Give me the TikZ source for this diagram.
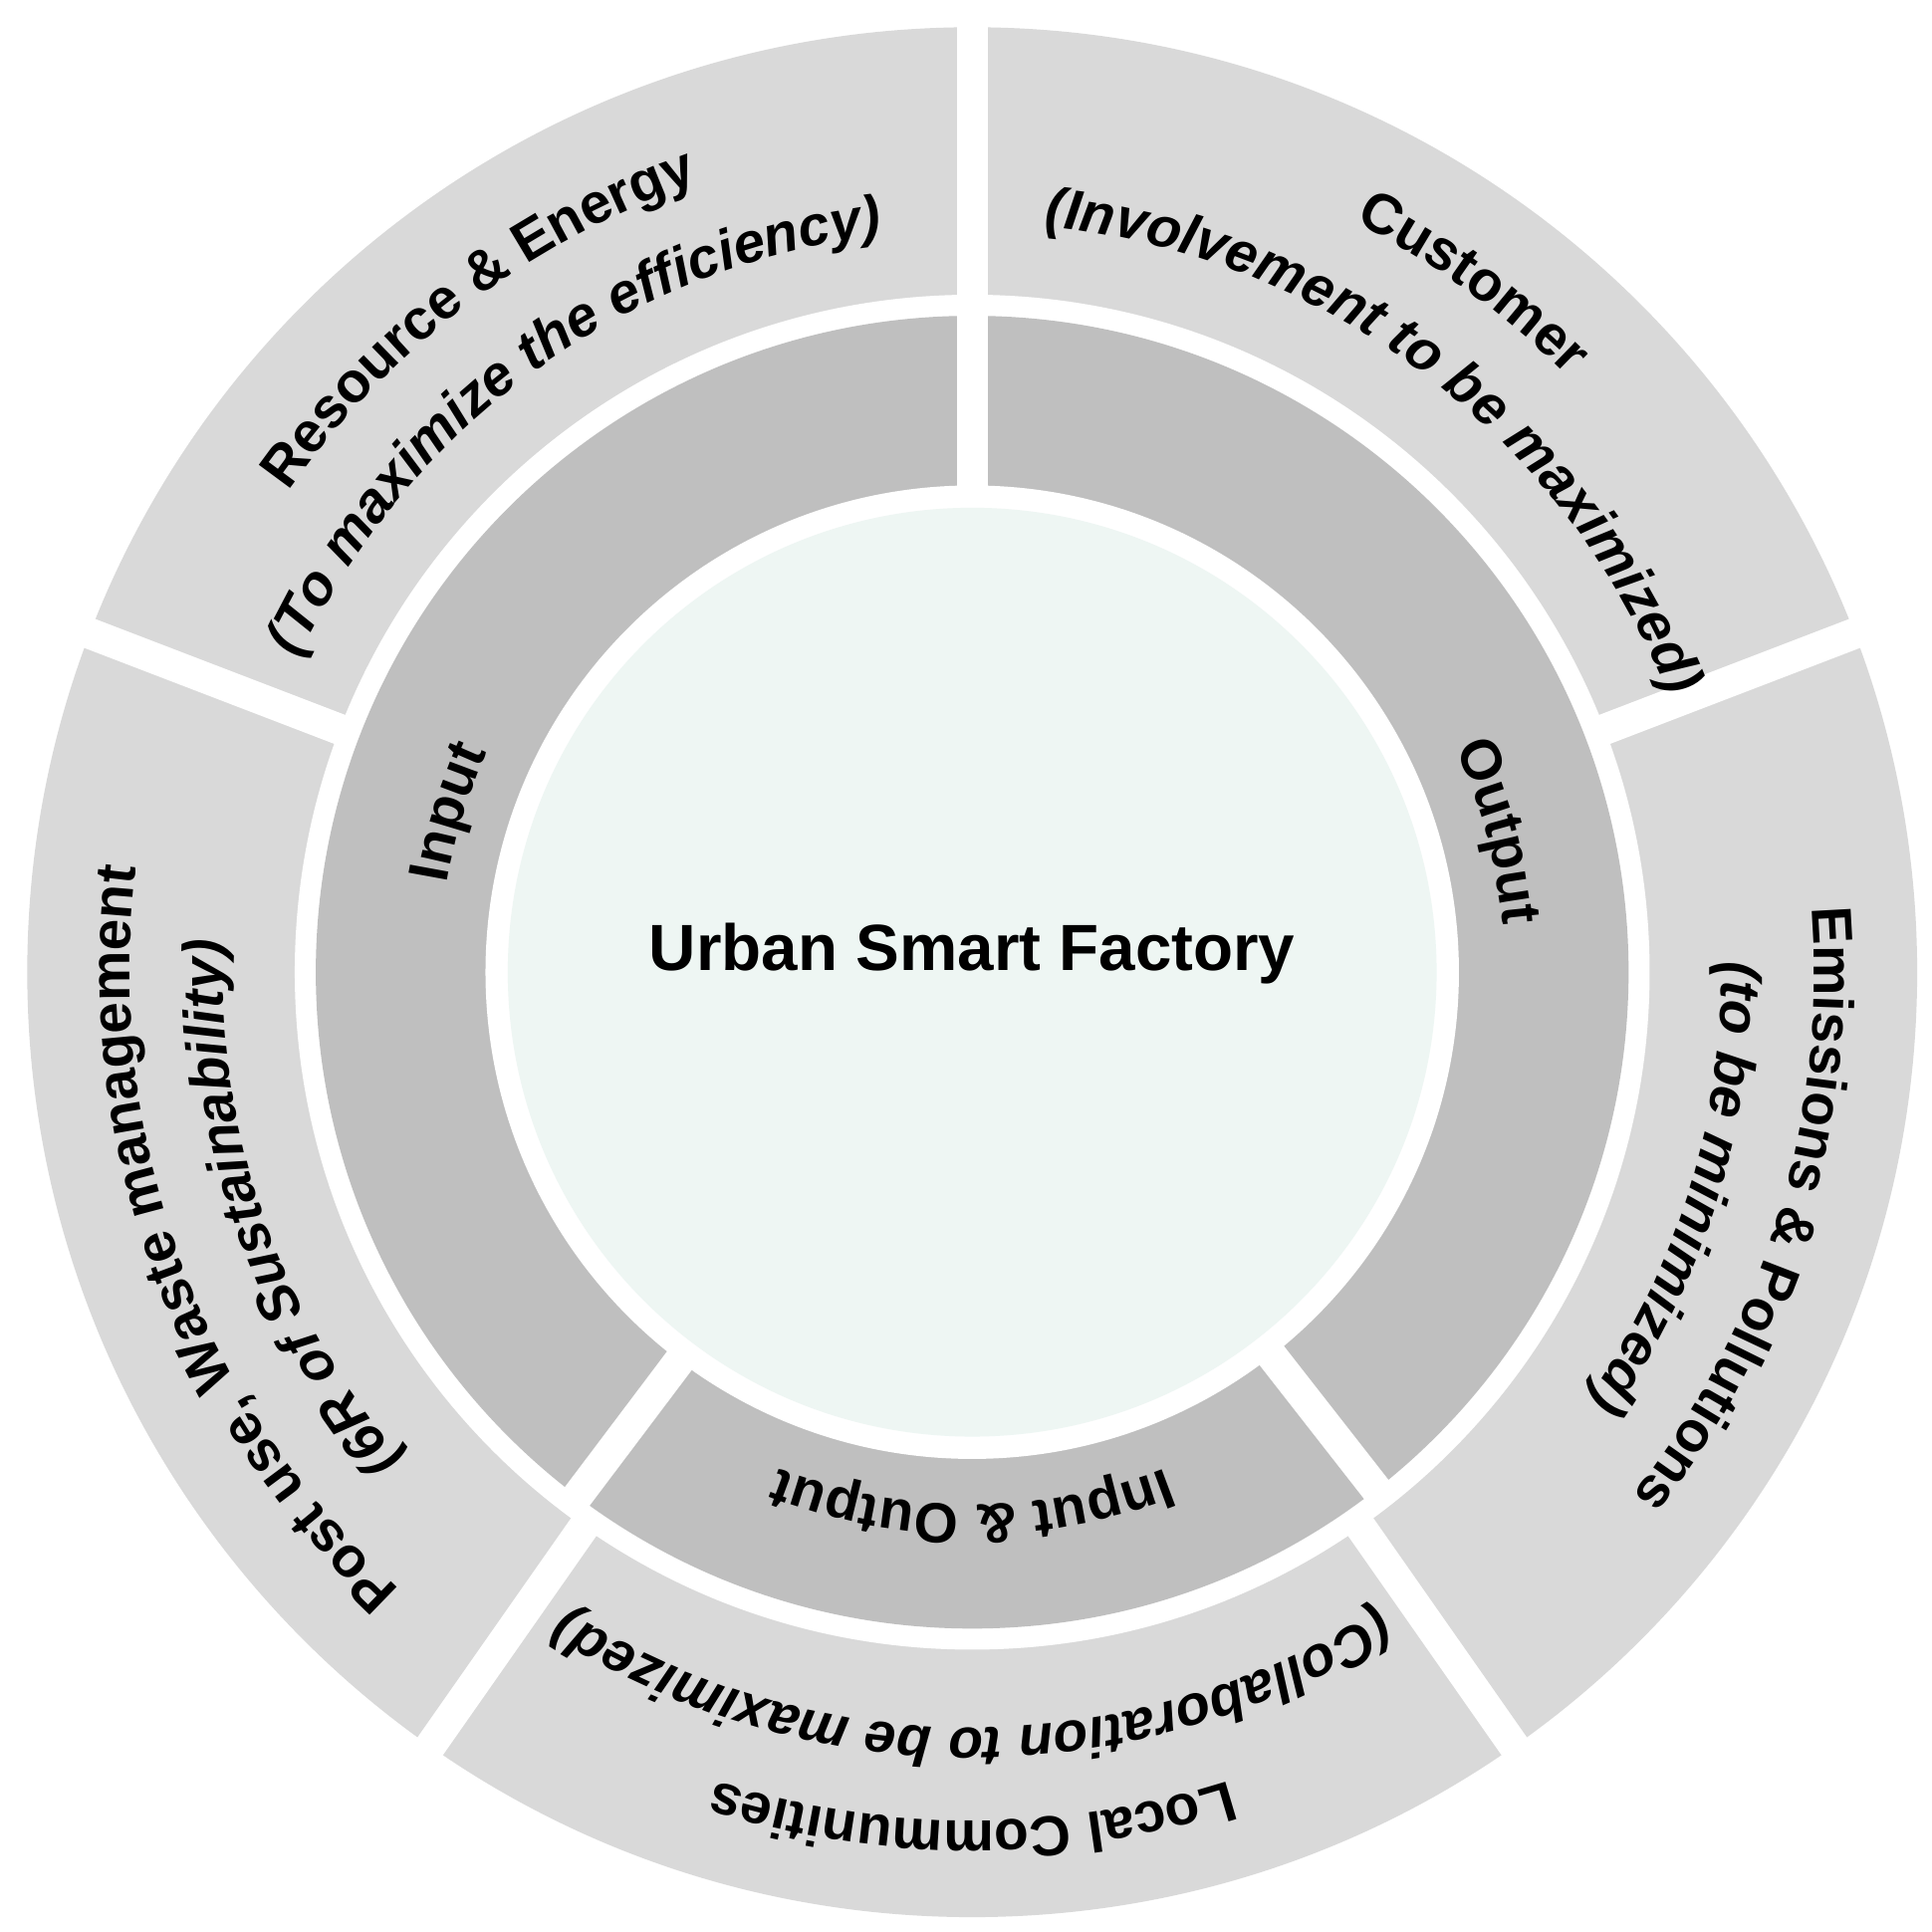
\documentclass[tikz,border=0pt]{standalone}
\usepackage{fontspec}
\setmainfont{Liberation Sans}
\usetikzlibrary{decorations.text}
\definecolor{outerg}{HTML}{D9D9D9}
\definecolor{midg}{HTML}{BFBFBF}
\definecolor{cfill}{HTML}{EEF6F3}
\newcommand{\bff}{\fontsize{13}{15}\selectfont\bfseries}
\newcommand{\itf}{\fontsize{13}{15}\selectfont\bfseries\itshape}
\tikzset{
  gapline/.style={draw=white,line width=0.25cm},
  arctext/.style={decorate,decoration={text along path,text align=center,text={#1}}}
}
\newcommand{\arclabel}[3]{% center angle, radius, text
  \path[arctext={#3}] ({#1+70}:#2) arc[start angle={#1+70},end angle={#1-70},radius=#2];}
\begin{document}
\begin{tikzpicture}
\useasboundingbox (-7.85,-7.75) rectangle (7.75,7.85);
\fill[outerg] (0,0) circle (7.63);
\fill[white] (0,0) circle (5.47);
\fill[midg] (0,0) circle (5.3);
\fill[white] (0,0) circle (3.93);
\fill[cfill] (0,0) circle (3.75);
\foreach \a in {21,90,159,235,305} \draw[gapline] (\a:5.4) -- (\a:7.9);
\foreach \a in {90,233,308} \draw[gapline] (\a:3.85) -- (\a:5.4);
\node[font=\fontsize{15}{17}\selectfont\bfseries] (usf) at (0,0.15) {Urban Smart Factory};
% outer ring
\arclabel{127}{6.75}{|\bff|Resource {\&} Energy}
\arclabel{126}{6.0}{|\itf|(To maximize the efficiency)}
\arclabel{54}{6.8}{|\bff|Customer}
\arclabel{53}{6.05}{|\itf|(Involvement to be maximized)}
\arclabel{-17}{6.8}{|\bff|Emissions {\&} Pollutions}
\arclabel{-17}{6.05}{|\itf|(to be minimized)}
\arclabel{200}{6.8}{|\bff|Post use{,} Waste management}
\arclabel{199}{6.05}{|\itf|(6R of Sustainability)}
\arclabel{270}{6.85}{|\bff|Local Communities}
\arclabel{270}{6.1}{|\itf|(Collaboration to be maximized)}
% middle ring
\arclabel{163}{4.3}{|\bff|Input}
\arclabel{15}{4.3}{|\bff|Output}
\arclabel{270}{4.3}{|\bff|Input {\&} Output}
\end{tikzpicture}
\end{document}
